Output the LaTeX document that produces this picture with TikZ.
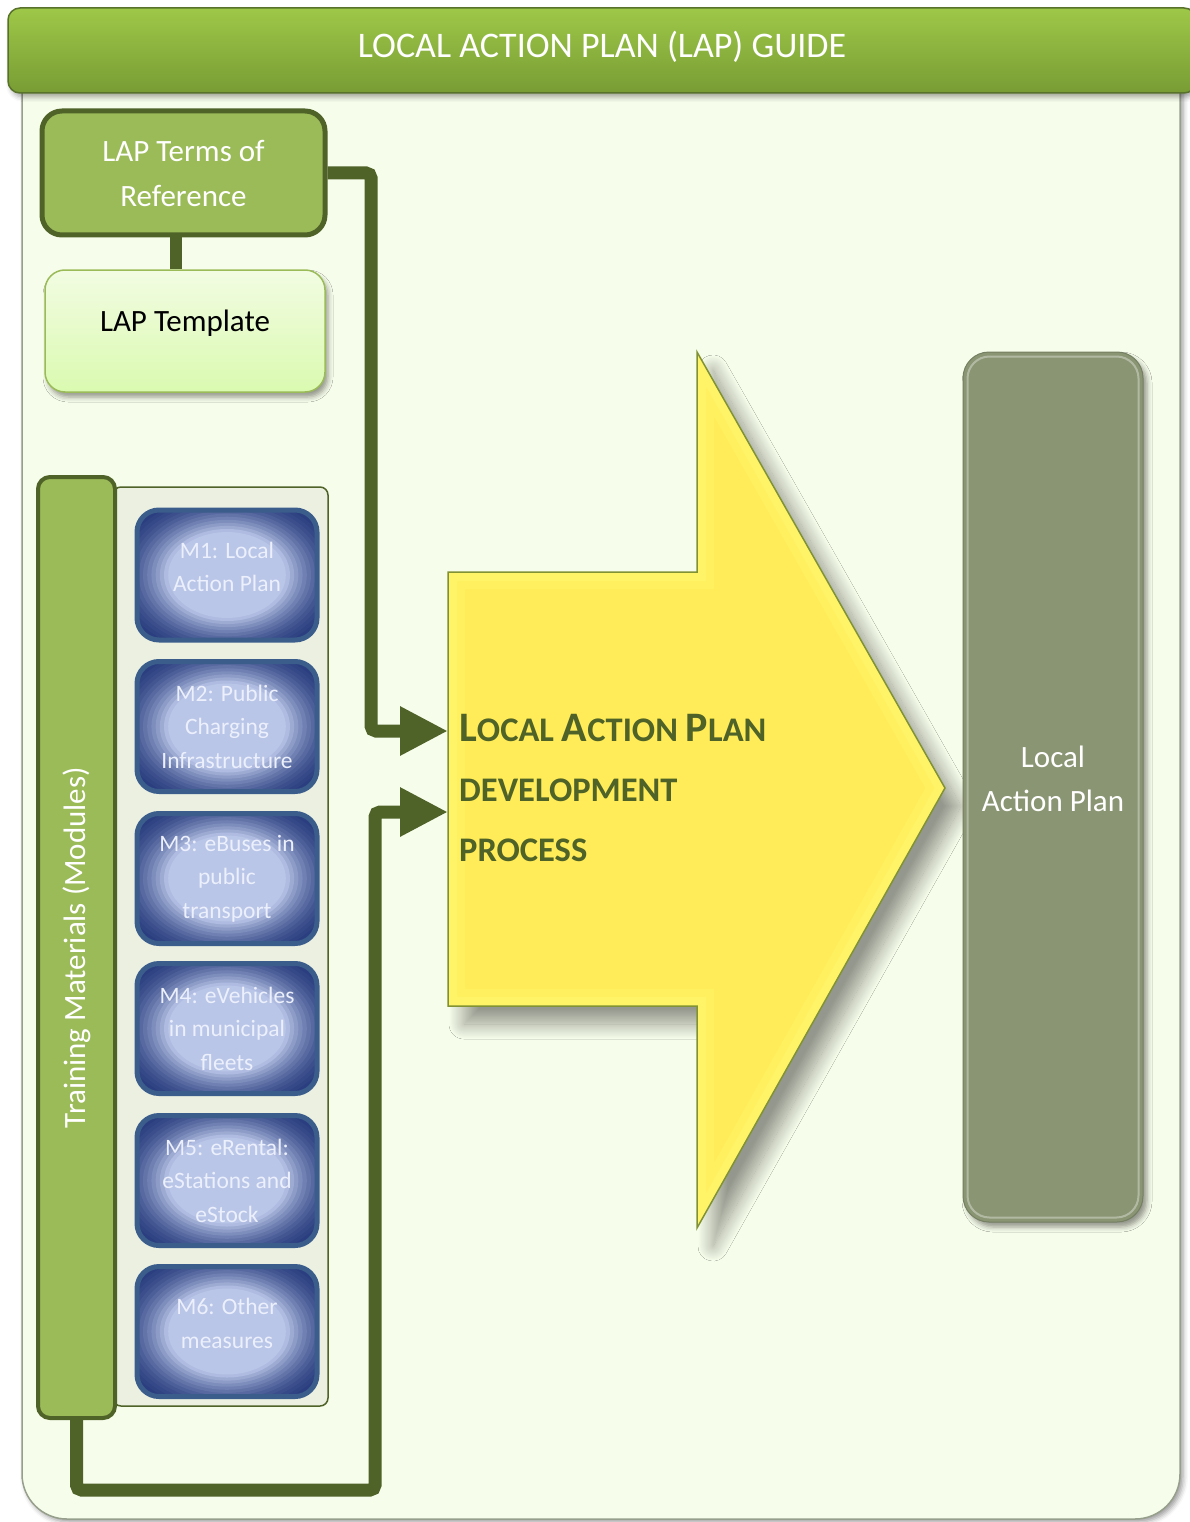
\documentclass[tikz,border=0pt]{standalone}
\usepackage{fontspec}
\setmainfont{Carlito}
\usetikzlibrary{arrows.meta,shadows.blur,calc}
\definecolor{dkgreen}{RGB}{79,98,40}
\definecolor{midgreen}{RGB}{155,187,89}
\definecolor{panelfill}{RGB}{247,253,235}
\definecolor{panelline}{RGB}{150,158,140}
\definecolor{titletop}{RGB}{158,200,72}
\definecolor{titlebot}{RGB}{120,156,52}
\definecolor{titleline}{RGB}{88,114,44}
\definecolor{tpltop}{RGB}{242,252,226}
\definecolor{tplbot}{RGB}{218,250,176}
\definecolor{contfill}{RGB}{235,240,224}
\definecolor{modin}{RGB}{186,198,232}
\definecolor{modout}{RGB}{38,58,124}
\definecolor{modline}{RGB}{59,93,140}
\definecolor{modtext}{RGB}{236,240,252}
\definecolor{yfill}{RGB}{255,236,88}
\definecolor{ylight}{RGB}{255,255,120}
\definecolor{yline}{RGB}{128,146,52}
\definecolor{lapfill}{RGB}{138,149,115}
\begin{document}
\begin{tikzpicture}[x=1pt,y=-1pt,
  titlebox/.style={rounded corners=12pt, minimum width=1188pt, minimum height=85pt,
    top color=titletop, bottom color=titlebot, draw=titleline, line width=1.5pt,
    text=white, font=\fontsize{36}{43}\selectfont, text depth=12pt,
    blur shadow={shadow xshift=3pt, shadow yshift=-4pt, shadow blur radius=5pt, shadow opacity=35}},
  torbox/.style={rounded corners=20pt, fill=midgreen, draw=dkgreen, line width=5pt,
    minimum width=283pt, minimum height=124pt, align=center, text=white,
    font=\fontsize{31}{45}\selectfont},
  tplbox/.style={rounded corners=20pt, top color=tpltop, bottom color=tplbot, draw=midgreen,
    line width=1.5pt, minimum width=280pt, minimum height=122pt, text=black,
    font=\fontsize{31}{38}\selectfont, text height=22pt, text depth=22pt,
    blur shadow={shadow xshift=3pt, shadow yshift=-5pt, shadow blur radius=5pt, shadow opacity=40}},
  tmbox/.style={rounded corners=12pt, fill=midgreen, draw=dkgreen, line width=4pt,
    minimum width=941pt, minimum height=77pt, text=white, font=\fontsize{31}{38}\selectfont},
  contbox/.style={rounded corners=8pt, fill=contfill, draw=dkgreen, line width=1.5pt,
    minimum width=215pt, minimum height=919pt},
  modbox/.style={rounded corners=22pt, fill=modout, draw=modline, line width=5pt,
    minimum width=180pt, minimum height=130pt, align=center, text=modtext,
    font=\fontsize{23.5}{33.5}\selectfont,
    path picture={
      \foreach \i in {0,...,30}{
        \pgfmathsetmacro\f{1-\i/30}
        \pgfmathsetmacro\p{100*(min(1,(1-\f)/0.52))^2}
        \fill[modin!\p!modout] (path picture bounding box.center)
          ellipse [x radius=\f*126pt, y radius=\f*92pt];
      }}},
  lapbox/.style={rounded corners=26pt, fill=lapfill, draw=lapfill!85!black, line width=1pt,
    minimum width=180pt, minimum height=870pt, align=center, text=white,
    font=\fontsize{31}{44}\selectfont,
    blur shadow={shadow xshift=4pt, shadow yshift=-5pt, shadow blur radius=5pt, shadow opacity=40}},
  conn/.style={draw=dkgreen, line width=13pt, rounded corners=5pt,
    -{Triangle[length=48pt,width=46pt]}},
  bar/.style={draw=dkgreen, line width=12pt},
  proctext/.style={anchor=base west, inner sep=0pt, text=dkgreen, font=\bfseries}
]
\useasboundingbox (0,0) rectangle (1190,1522);
\clip (0,0) rectangle (1190,1522);

% outer panel
\fill[panelfill, rounded corners=45pt,
  blur shadow={shadow xshift=3pt, shadow yshift=-3pt, shadow blur radius=5pt, shadow opacity=40}]
  (22,20) -- (22,1519) -- (1180,1519) -- (1180,20) -- cycle;
\draw[panelline, line width=1.5pt, rounded corners=45pt]
  (22,20) -- (22,1519) -- (1180,1519) -- (1180,20);

% title
\node[titlebox] (title) at (602,50.5) {LOCAL ACTION PLAN (LAP) GUIDE};

% yellow process arrow
\coordinate (in1) at (448,731);
\coordinate (in2) at (448,812);
\fill[yfill, blur shadow={shadow xshift=16pt, shadow yshift=-18pt, shadow blur radius=15pt, shadow blur steps=24, shadow opacity=40}]
  (448,572) -- (697,572) -- (697,352) -- (945,788) -- (697,1228) -- (697,1006) -- (448,1006) -- cycle;
\begin{scope}
  \clip (448,572) -- (697,572) -- (697,352) -- (945,788) -- (697,1228) -- (697,1006) -- (448,1006) -- cycle;
  \draw[ylight, opacity=0.25, line width=34pt, line join=miter]
    (448,572) -- (697,572) -- (697,352) -- (945,788) -- (697,1228) -- (697,1006) -- (448,1006) -- cycle;
  \draw[ylight, opacity=0.3, line width=18pt, line join=miter]
    (448,572) -- (697,572) -- (697,352) -- (945,788) -- (697,1228) -- (697,1006) -- (448,1006) -- cycle;
\end{scope}
\draw[yline, line width=1.5pt]
  (448,572) -- (697,572) -- (697,352) -- (945,788) -- (697,1228) -- (697,1006) -- (448,1006) -- cycle;

\node[proctext] (p1) at (459,741) {{\fontsize{42}{50}\selectfont L}{\fontsize{34.5}{40}\selectfont OCAL }{\fontsize{42}{50}\selectfont A}{\fontsize{34.5}{40}\selectfont CTION }{\fontsize{42}{50}\selectfont P}{\fontsize{34.5}{40}\selectfont LAN}};
\node[proctext] (p2) at (459,801) {\fontsize{34.5}{40}\selectfont DEVELOPMENT};
\node[proctext] (p3) at (459,861) {\fontsize{34.5}{40}\selectfont PROCESS};

% left column
\node[torbox] (tor) at (183.5,173) {LAP Terms of\\Reference};
\node[tplbox] (tpl) at (185,331) {LAP Template};
\draw[bar] ([xshift=-8pt]tor.south) -- ([xshift=-8pt]tor.south |- tpl.north);

\node[contbox] (mods) at (220.5,946.5) {};
\node[tmbox, rotate=90] (tm) at (76.5,947.5) {Training Materials (Modules)};

\node[modbox] (m1) at (227,575) {M1: Local\\Action Plan\rule[-16pt]{0pt}{16pt}};
\node[modbox] (m2) at (227,726.5) {M2: Public\\Charging\\Infrastructure};
\node[modbox] (m3) at (227,878.5) {M3: eBuses in\\public\\transport};
\node[modbox] (m4) at (227,1028.5) {M4: eVehicles\\in municipal\\fleets};
\node[modbox] (m5) at (227,1180.5) {M5: eRental:\\eStations and\\eStock};
\node[modbox] (m6) at (227,1331.5) {M6: Other\\measures\rule[-16pt]{0pt}{16pt}};

% connectors
\coordinate (c1) at (371,731);
\coordinate (c2) at (375,1490);
\draw[conn] (tor.east) -| (c1) -- (in1);
\draw[conn] (tm.west) |- (c2) |- (in2);

% result box
\node[lapbox] (lap) at (1053,787) {Local\\Action Plan\rule[-16pt]{0pt}{16pt}};
\draw[white, opacity=0.35, line width=2pt, rounded corners=22pt]
  ([xshift=5pt,yshift=5pt]lap.south west) rectangle ([xshift=-5pt,yshift=-5pt]lap.north east);
\end{tikzpicture}
\end{document}
